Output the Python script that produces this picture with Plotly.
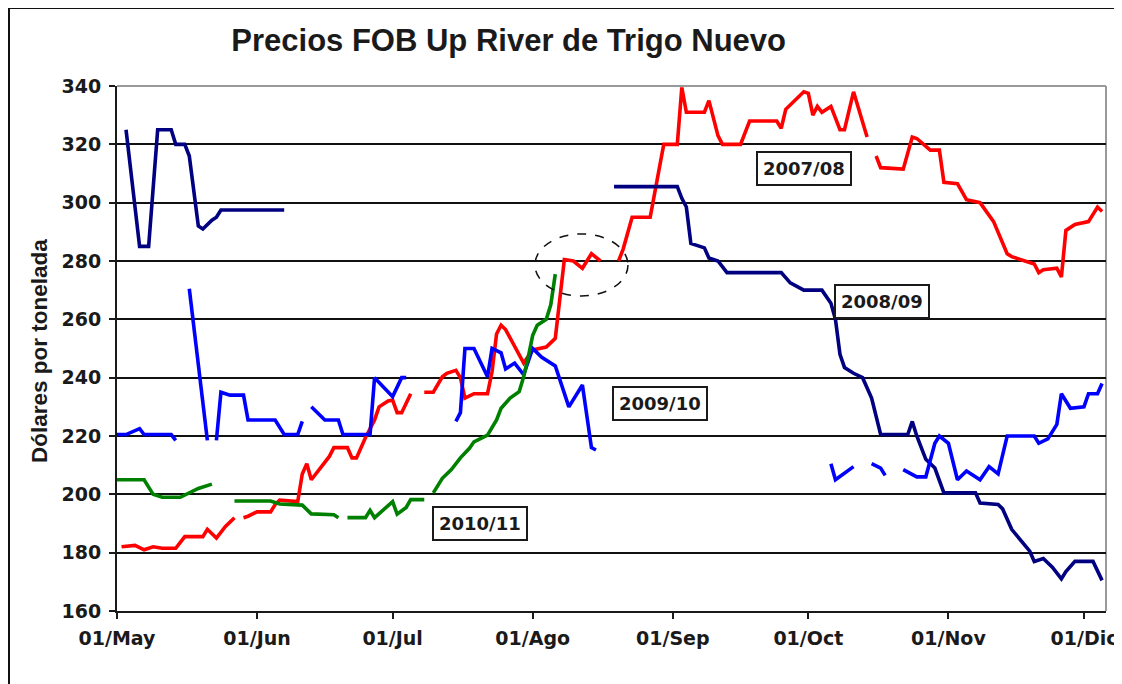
import plotly.graph_objects as go

# ---------------- data ----------------
dates_0708 = ["2010-05-02","2010-05-05","2010-05-07","2010-05-09","2010-05-11","2010-05-14","2010-05-16","2010-05-20",
              "2010-05-21","2010-05-23","2010-05-25","2010-05-27","2010-05-28","2010-05-29","2010-05-30","2010-06-01",
              "2010-06-04","2010-06-05","2010-06-06","2010-06-10","2010-06-11","2010-06-12","2010-06-13","2010-06-17",
              "2010-06-18","2010-06-21","2010-06-22","2010-06-23","2010-06-25","2010-06-27","2010-06-28","2010-06-30",
              "2010-07-01","2010-07-02","2010-07-03","2010-07-05","2010-07-06","2010-07-08","2010-07-10","2010-07-12",
              "2010-07-13","2010-07-15","2010-07-16","2010-07-17","2010-07-19","2010-07-22","2010-07-23","2010-07-24",
              "2010-07-25","2010-07-26","2010-07-30","2010-08-01","2010-08-04","2010-08-06","2010-08-07","2010-08-08",
              "2010-08-10","2010-08-12","2010-08-14","2010-08-16","2010-08-18","2010-08-20","2010-08-21","2010-08-23",
              "2010-08-27","2010-08-30","2010-09-02","2010-09-03","2010-09-04","2010-09-08","2010-09-09","2010-09-11",
              "2010-09-12","2010-09-16","2010-09-18","2010-09-24","2010-09-25","2010-09-26","2010-09-30","2010-10-01",
              "2010-10-02","2010-10-03","2010-10-04","2010-10-06","2010-10-08","2010-10-09","2010-10-11","2010-10-14",
              "2010-10-15","2010-10-16","2010-10-17","2010-10-22","2010-10-24","2010-10-25","2010-10-28","2010-10-30",
              "2010-10-31","2010-11-03","2010-11-05","2010-11-08","2010-11-11","2010-11-14","2010-11-15","2010-11-20",
              "2010-11-21","2010-11-22","2010-11-25","2010-11-26","2010-11-27","2010-11-29","2010-12-02","2010-12-04",
              "2010-12-05"]
prices_0708 = [182, 182.5, 181, 182, 181.5, 181.5, 185.5, 185.5,
               188, 185, 189, 192, None, 192, 192.5, 194,
               194, 196.5, 198, 197.5, 207, 210.5, 205, 213,
               216, 216, 212.5, 212.5, 219.5, 225.5, 230, 232,
               232.3, 228, 228, 234.5, None, 235, 235, 240.3,
               241.5, 242.5, 240, 233, 234.5, 234.5, 242, 255,
               258, 256.5, 245, 249.5, 250.5, 253.5, 268, 280.5,
               280, 277.5, 282.5, 280, None, 280, 284, 295,
               295, 320, 320, 339.5, 331, 331, 335, 323,
               320, 320, 328, 328, 325.5, 332, 338, 337.5,
               330, 333, 331, 333, 325, 325, 338, 322.5,
               None, 316, 312, 311.5, 322.5, 322, 318, 318,
               307, 306.5, 301, 300, 293.5, 282.5, 281.5, 279,
               276, 277, 277.5, 274.5, 290.5, 292.5, 293.5, 298.5,
               297]

dates_0809 = ["2010-05-03","2010-05-06","2010-05-08","2010-05-10","2010-05-13","2010-05-14","2010-05-16","2010-05-17",
              "2010-05-19","2010-05-20","2010-05-22","2010-05-23","2010-05-24","2010-06-07","2010-06-08","2010-08-19",
              "2010-09-02","2010-09-03","2010-09-04","2010-09-05","2010-09-08","2010-09-09","2010-09-11","2010-09-13",
              "2010-09-25","2010-09-27","2010-09-30","2010-10-04","2010-10-06","2010-10-07","2010-10-08","2010-10-09",
              "2010-10-11","2010-10-13","2010-10-15","2010-10-17","2010-10-23","2010-10-24","2010-10-25","2010-10-27",
              "2010-10-29","2010-10-31","2010-11-07","2010-11-08","2010-11-12","2010-11-13","2010-11-15","2010-11-19",
              "2010-11-20","2010-11-22","2010-11-24","2010-11-26","2010-11-27","2010-11-29","2010-12-03","2010-12-05"]
prices_0809 = [325, 285, 285, 325, 325, 320, 320, 316,
               292, 291, 294, 295, 297.5, 297.5, None, 305.5,
               305.5, 301.5, 298.5, 286, 284.5, 281, 280, 276,
               276, 272.5, 270, 270, 265.5, 260, 248, 243.5,
               241.5, 240, 233, 220.5, 220.5, 225, 220, 212,
               209, 200.5, 200.5, 197, 196.5, 195, 188, 180.5,
               177, 178, 175, 171, 173.5, 177, 177, 170.5]

dates_0910 = ["2010-05-01","2010-05-03","2010-05-06","2010-05-07","2010-05-13","2010-05-14","2010-05-15","2010-05-17",
              "2010-05-21","2010-05-22","2010-05-23","2010-05-24","2010-05-26","2010-05-29","2010-05-30","2010-06-05",
              "2010-06-07","2010-06-10","2010-06-11","2010-06-12","2010-06-13","2010-06-16","2010-06-19","2010-06-20",
              "2010-06-26","2010-06-27","2010-07-01","2010-07-03","2010-07-04","2010-07-05","2010-07-15","2010-07-16",
              "2010-07-17","2010-07-19","2010-07-22","2010-07-23","2010-07-25","2010-07-26","2010-07-28","2010-07-30",
              "2010-08-01","2010-08-03","2010-08-06","2010-08-09","2010-08-12","2010-08-14","2010-08-15","2010-08-16",
              "2010-10-06","2010-10-07","2010-10-11","2010-10-13","2010-10-15","2010-10-17","2010-10-18","2010-10-20",
              "2010-10-22","2010-10-25","2010-10-27","2010-10-29","2010-10-30","2010-11-01","2010-11-03","2010-11-05",
              "2010-11-08","2010-11-10","2010-11-12","2010-11-14","2010-11-20","2010-11-21","2010-11-23","2010-11-25",
              "2010-11-26","2010-11-28","2010-12-01","2010-12-02","2010-12-04","2010-12-05"]
prices_0910 = [220.5, 220.5, 222.5, 220.5, 220.5, 218.5, None, 270.5,
               218.5, None, 218.5, 235, 234, 234, 225.5, 225.5,
               220.5, 220.5, 225, None, 230, 225.5, 225.5, 220.5,
               220.5, 240, 233.5, 240, 240, None, 225, 228,
               250, 250, 240.3, 250, 248.5, 243, 245, 241,
               250, 247, 244, 230, 237.5, 216, 215.2, None,
               210.5, 205, 209.5, None, 210.5, 209, 206.5, None,
               208.5, 206, 206, 217.5, 220, 217.5, 205, 208,
               205, 209.5, 207, 220, 220, 217.5, 219, 224,
               234.5, 229.5, 230, 234.5, 234.5, 238]

dates_1011 = ["2010-05-01","2010-05-07","2010-05-09","2010-05-11","2010-05-15","2010-05-17","2010-05-19","2010-05-22",
              "2010-05-24","2010-05-27","2010-06-04","2010-06-06","2010-06-11","2010-06-13","2010-06-18","2010-06-19",
              "2010-06-20","2010-06-21","2010-06-25","2010-06-26","2010-06-27","2010-07-01","2010-07-02","2010-07-04",
              "2010-07-05","2010-07-08","2010-07-09","2010-07-10","2010-07-11","2010-07-12","2010-07-14","2010-07-16",
              "2010-07-18","2010-07-19","2010-07-22","2010-07-24","2010-07-25","2010-07-27","2010-07-29","2010-07-30",
              "2010-07-31","2010-08-01","2010-08-02","2010-08-04","2010-08-05","2010-08-06"]
prices_1011 = [205, 205, 200, 199, 199, 200.5, 202, 203.5,
               None, 197.7, 197.7, 196.7, 196.3, 193.3, 193, 192,
               None, 192, 192, 194.5, 192, 197.5, 193.2, 195.5,
               198.2, 198.2, None, 200.5, 203, 205.5, 208.5, 212.5,
               215.8, 218, 220.3, 225.5, 229.5, 233, 235.2, 240.3,
               247, 254.5, 258, 260, 265, 275.5]

series_names = ["2007/08", "2008/09", "2009/10", "2010/11"]
series_colors = ["#FF0000", "#000080", "#0000FF", "#008000"]
series_dates = [dates_0708, dates_0809, dates_0910, dates_1011]
series_prices = [prices_0708, prices_0809, prices_0910, prices_1011]

tick_dates = ["2010-05-01", "2010-06-01", "2010-07-01", "2010-08-01",
              "2010-09-01", "2010-10-01", "2010-11-01", "2010-12-01"]
tick_labels = ["01/May", "01/Jun", "01/Jul", "01/Ago", "01/Sep", "01/Oct", "01/Nov", "01/Dic"]
y_ticks = [160, 180, 200, 220, 240, 260, 280, 300, 320, 340]

# ---------------- figure ----------------
fig = go.Figure()
for name, color, xs, ys in zip(series_names, series_colors, series_dates, series_prices):
    fig.add_trace(go.Scatter(x=xs, y=ys, mode="lines", name=name,
                             line=dict(color=color, width=3.6),
                             connectgaps=False, showlegend=False))

tick_font = dict(family="DejaVu Sans", size=19, color="#1a1a1a", weight="bold")

fig.update_layout(
    width=1122, height=684,
    margin=dict(l=109, r=24, t=78, b=81),
    paper_bgcolor="white", plot_bgcolor="white",
    title=dict(text="Precios FOB Up River de Trigo Nuevo",
               font=dict(family="Liberation Sans", size=31, color="#1a1a1a", weight="bold"),
               x=0.396, xref="paper", xanchor="center",
               y=1 - 32 / 684, yref="container", yanchor="middle"),
    xaxis=dict(type="date", range=["2010-05-01", "2010-12-05 21:00"],
               tickvals=tick_dates, ticktext=tick_labels,
               tickfont=tick_font, showgrid=False, zeroline=False,
               showline=True, linecolor="#1a1a1a", linewidth=2,
               ticks="outside", ticklen=6, tickwidth=2, tickcolor="#1a1a1a",
               ticklabelstandoff=3, automargin=False),
    yaxis=dict(range=[160, 340], tickvals=y_ticks,
               tickfont=tick_font, showgrid=True, gridcolor="#111111", gridwidth=2,
               zeroline=False, showline=True, linecolor="#1a1a1a", linewidth=2,
               ticks="outside", ticklen=6, tickwidth=2, tickcolor="#1a1a1a",
               ticklabelstandoff=4, automargin=False),
)

# light frame at top and right of the plot area
fig.add_shape(type="line", xref="paper", yref="paper", x0=0, x1=1, y0=1, y1=1,
              line=dict(color="#9a9a9a", width=2), layer="between")
fig.add_shape(type="line", xref="paper", yref="paper", x0=1, x1=1, y0=0, y1=1,
              line=dict(color="#9a9a9a", width=2), layer="between")

# outer border of the chart
fig.add_shape(type="rect", xref="paper", yref="paper",
              x0=-0.1092, x1=1.05, y0=-0.2, y1=1.1486,
              line=dict(color="#111111", width=2), layer="above")

# dashed ellipse highlighting August prices
fig.add_shape(type="circle", xref="x", yref="y",
              x0="2010-08-01 12:00", x1="2010-08-22 02:00", y0=268, y1=289.3,
              line=dict(color="#111111", width=1.5, dash="dash"), layer="above")

# y axis title
fig.add_annotation(text="Dólares por tonelada", xref="paper", yref="paper",
                   x=-0.0789, y=0.495, xanchor="center", yanchor="middle",
                   textangle=-90, showarrow=False,
                   font=dict(family="Liberation Sans", size=22.5, color="#1a1a1a", weight="bold"))

# series labels in boxes
label_pos = [(0.6943, 0.8438), (0.7732, 0.5890), (0.549, 0.3943), (0.3675, 0.1667)]
for name, (lx, ly) in zip(series_names, label_pos):
    fig.add_annotation(text=name, xref="paper", yref="paper", x=lx, y=ly,
                       xanchor="center", yanchor="middle",
                       showarrow=False, bgcolor="white", bordercolor="#1a1a1a",
                       borderwidth=2, borderpad=5,
                       font=dict(family="DejaVu Sans", size=18, color="#1a1a1a", weight="bold"))

fig.write_html("out.html")
